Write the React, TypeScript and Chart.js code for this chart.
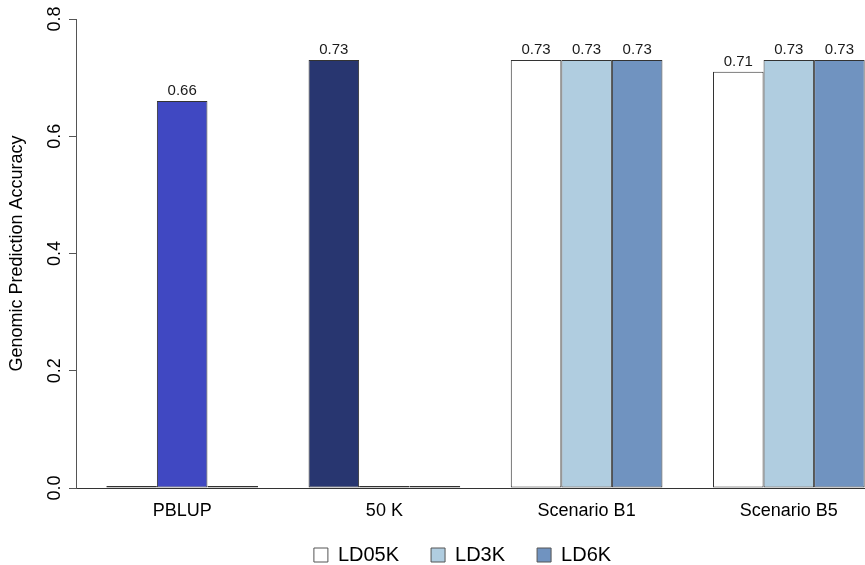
import { useEffect, useRef } from 'react';
import { Chart, registerables } from 'chart.js';

Chart.register(...registerables);

const FONT = '"Liberation Sans", Arial, Helvetica, sans-serif';

// ---- data ----
const categories = ['PBLUP', '50 K', 'Scenario B1', 'Scenario B5'];
const seriesNames = ['LD05K', 'LD3K', 'LD6K'];
const ld05k = [0, 0.73, 0.73, 0.71];
const ld3k = [0.66, 0, 0.73, 0.73];
const ld6k = [0, 0, 0.73, 0.73];
const ld05kColors = ['#ffffff', '#283670', '#ffffff', '#ffffff'];
const ld3kColors = ['#4048c2', '#b0cde0', '#b0cde0', '#b0cde0'];
const ld6kColors = ['#7093c0', '#7093c0', '#7093c0', '#7093c0'];
const legendColors = ['#ffffff', '#b0cde0', '#7093c0'];
const yMin = 0;
const yMax = 0.8;
const yStep = 0.2;
const yTitle = 'Genomic Prediction Accuracy';

const ZERO_COLOR = '#2a2a2a';
const LEGEND_PAD = 32;

const valueLabels = {
  id: 'valueLabels',
  afterDatasetsDraw(chart: any) {
    const ctx = chart.ctx;
    ctx.save();
    ctx.font = `15px ${FONT}`;
    ctx.fillStyle = '#1a1a1a';
    ctx.textAlign = 'center';
    ctx.textBaseline = 'alphabetic';
    chart.data.datasets.forEach((ds: any, i: number) => {
      const meta = chart.getDatasetMeta(i);
      meta.data.forEach((el: any, j: number) => {
        const v = ds.data[j].y;
        if (!v) return;
        ctx.fillText(v.toFixed(2), el.x, el.y - 6);
      });
    });
    ctx.restore();
  },
};

const legendFit = {
  id: 'legendFit',
  afterInit(chart: any) {
    const legend = chart.legend;
    if (!legend) return;
    const orig = legend.fit;
    legend.fit = function () {
      orig.call(this);
      this.height = 30;
    };
  },
  afterLayout(chart: any) {
    const legend = chart.legend;
    if (!legend) return;
    legend.left += 15;
    legend.right += 15;
    legend.top = legend.top + 10 - LEGEND_PAD;
    legend.height = legend.bottom - legend.top;
  },
};

function makeDataset(label: string, values: number[], colors: string[]) {
  return {
    label,
    data: values.map((v, i) => ({ x: i + 1, y: v })),
    backgroundColor: values.map((v, i) => (v === 0 ? ZERO_COLOR : colors[i])),
    borderColor: '#333333',
    borderWidth: 1,
    borderSkipped: false as const,
    minBarLength: 2,
  };
}

export default function App() {
  const ref = useRef<HTMLCanvasElement | null>(null);

  useEffect(() => {
    if (!ref.current) return;
    Chart.defaults.font.family = FONT;
    const chart = new Chart(ref.current, {
      type: 'bar',
      data: {
        datasets: [
          makeDataset(seriesNames[0], ld05k, ld05kColors),
          makeDataset(seriesNames[1], ld3k, ld3kColors),
          makeDataset(seriesNames[2], ld6k, ld6kColors),
        ],
      },
      options: {
        responsive: false,
        animation: false,
        devicePixelRatio: 1,
        layout: { padding: { top: 19, right: 5, left: 0, bottom: 0 } },
        datasets: { bar: { categoryPercentage: 0.75, barPercentage: 1 } },
        scales: {
          x: {
            type: 'linear',
            min: 0.475,
            max: 4.525,
            bounds: 'data',
            offset: false,
            grace: 0,
            grid: { display: false, drawTicks: false, offset: false },
            border: { display: true, color: '#333333', width: 1 },
            afterBuildTicks: (s: any) => {
              s.ticks = categories.map((_, i) => ({ value: i + 1 }));
            },
            ticks: {
              autoSkip: false,
              maxRotation: 0,
              padding: 12,
              color: '#000',
              font: { size: 18, family: FONT },
              callback: (v: any) => {
                const i = Math.round(Number(v));
                return categories[i - 1] ?? '';
              },
            },
            afterFit: (s: any) => {
              s.height = 47;
            },
          },
          y: {
            min: yMin,
            max: yMax,
            grid: { display: true, drawOnChartArea: false, drawTicks: true, tickLength: 7, color: '#555' },
            border: { display: true, color: '#555' },
            ticks: {
              stepSize: yStep,
              minRotation: 90,
              maxRotation: 90,
              crossAlign: 'center',
              padding: 1,
              color: '#000',
              font: { size: 18, family: FONT },
              callback: (v: any) => Number(v).toFixed(1),
            },
            title: {
              display: true,
              text: yTitle,
              color: '#000',
              font: { size: 18, family: FONT },
              padding: { top: 6, bottom: 0 },
            },
            afterFit: (s: any) => {
              s.width = 76;
            },
          },
        },
        plugins: {
          tooltip: { enabled: false },
          legend: {
            display: true,
            position: 'bottom',
            onClick: () => {},
            labels: {
              color: '#000',
              font: { size: 20, family: FONT },
              boxWidth: 14,
              boxHeight: 14,
              padding: LEGEND_PAD,
              generateLabels: () =>
                seriesNames.map((t, i) => ({
                  text: t,
                  fillStyle: legendColors[i],
                  strokeStyle: '#555555',
                  lineWidth: 1,
                  hidden: false,
                  datasetIndex: i,
                })),
            },
          },
        },
      } as any,
      plugins: [valueLabels, legendFit],
    });
    return () => chart.destroy();
  }, []);

  return (
    <div
      style={{
        position: 'fixed',
        left: 0,
        top: 0,
        width: 865,
        height: 565,
        overflow: 'hidden',
        background: '#ffffff',
      }}
    >
      <canvas ref={ref} width={900} height={565} style={{ display: 'block' }} />
    </div>
  );
}
